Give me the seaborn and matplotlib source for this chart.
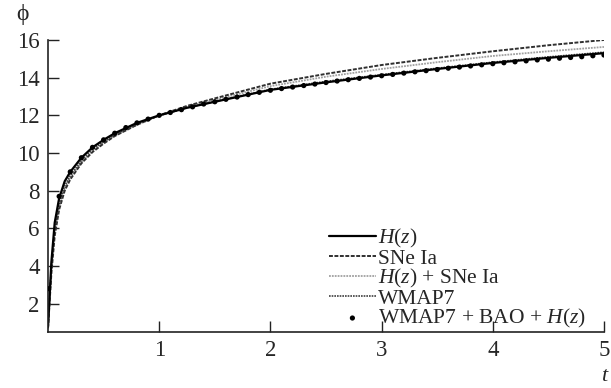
import numpy as np
import pandas as pd
import matplotlib
matplotlib.use("Agg")
import matplotlib.pyplot as plt
import seaborn as sns

# ---- data ----
t_line = [0.0, 0.03, 0.06, 0.1, 0.15, 0.2, 0.3, 0.4, 0.5, 0.6, 0.8, 1.0,
          1.25, 1.5, 2.0, 2.5, 3.0, 3.5, 4.0, 4.5, 5.0]
phi_H = [0.8, 4.2, 6.3, 7.6, 8.5, 9.0, 9.75, 10.3, 10.7, 11.05, 11.6, 12.0,
         12.4, 12.72, 13.35, 13.75, 14.12, 14.46, 14.78, 15.05, 15.3]
phi_SN = [0.7, 3.6, 5.6, 7.0, 8.0, 8.6, 9.45, 10.05, 10.5, 10.9, 11.5, 12.0,
          12.5, 12.9, 13.68, 14.2, 14.67, 15.05, 15.4, 15.72, 16.0]
phi_HSN = [0.7, 3.8, 5.8, 7.15, 8.1, 8.7, 9.5, 10.1, 10.55, 10.92, 11.5, 11.98,
           12.45, 12.82, 13.55, 14.05, 14.46, 14.82, 15.15, 15.4, 15.63]
phi_W = [0.8, 4.0, 6.0, 7.3, 8.25, 8.8, 9.6, 10.2, 10.6, 10.98, 11.55, 11.98,
         12.4, 12.73, 13.38, 13.8, 14.16, 14.5, 14.82, 15.1, 15.35]

t_dots = [round(0.1 * i, 1) for i in range(51)]
phi_dots = [2.8, 7.7, 9.0, 9.75, 10.3, 10.7, 11.05, 11.35, 11.6, 11.8,
            12.0, 12.15, 12.3, 12.45, 12.6, 12.72, 12.85, 12.97, 13.1, 13.22,
            13.33, 13.42, 13.5, 13.58, 13.66, 13.74, 13.82, 13.89, 13.96, 14.03,
            14.1, 14.17, 14.24, 14.31, 14.37, 14.43, 14.5, 14.56, 14.62, 14.68,
            14.74, 14.79, 14.84, 14.89, 14.94, 14.98, 15.03, 15.07, 15.11, 15.16,
            15.2]

labels = [r"$H$($z$)", "SNe Ia", r"$H$($z$) + SNe Ia", "WMAP7",
          r"WMAP7 + BAO + $H$($z$)"]
x_ticks = [1, 2, 3, 4, 5]
y_ticks = [2, 4, 6, 8, 10, 12, 14, 16]

sns.set_style("ticks")
plt.rcParams["font.family"] = ["Liberation Serif", "DejaVu Serif"]
plt.rcParams["mathtext.fontset"] = "custom"
plt.rcParams["mathtext.rm"] = "Liberation Serif"
plt.rcParams["mathtext.it"] = "Liberation Serif:italic"

fig = plt.figure(figsize=(6.11, 3.88), dpi=100)
ax = fig.add_axes([0.0786, 0.1443, 0.9099, 0.7527])

df = pd.DataFrame({"t": t_line, "H": phi_H, "SN": phi_SN, "HSN": phi_HSN, "W": phi_W})
dd = pd.DataFrame({"t": t_dots, "phi": phi_dots})

sns.lineplot(data=df, x="t", y="HSN", ax=ax, color="#a0a0a0", lw=1.3,
             linestyle=(0, (1, 0.6)), label=labels[2], legend=False)
sns.lineplot(data=df, x="t", y="SN", ax=ax, color="#303030", lw=1.4,
             linestyle=(0, (2, 0.8)), label=labels[1], legend=False)
sns.lineplot(data=df, x="t", y="W", ax=ax, color="#404040", lw=1.2,
             linestyle=(0, (1, 0.6)), label=labels[3], legend=False)
sns.lineplot(data=df, x="t", y="H", ax=ax, color="black", lw=1.6,
             label=labels[0], legend=False)
sns.scatterplot(data=dd, x="t", y="phi", ax=ax, color="black", s=14,
                edgecolor="none", label=labels[4], legend=False, zorder=5)

ax.set_xlim(0, 5)
ax.set_ylim(0.5, 16)
ax.set_xticks(x_ticks)
ax.set_yticks(y_ticks)
ax.tick_params(direction="in", length=8, width=1, labelsize=16.5, pad=6, color="#222222")
ax.set_xlabel("")
ax.set_ylabel("")
sns.despine(ax=ax)
for s in ["left", "bottom"]:
    ax.spines[s].set_linewidth(1.2)
    ax.spines[s].set_color("#222222")

fig.text(0.027, 0.935, "ϕ", fontsize=17, ha="left", va="bottom")
fig.text(0.997, 0.006, "$t$", fontsize=16, ha="right", va="bottom")

handles, labs = ax.get_legend_handles_labels()
order = [labs.index(l) for l in labels]
leg = ax.legend([handles[i] for i in order], [labs[i] for i in order],
                loc="upper left", bbox_to_anchor=(0.538, 0.415),
                bbox_transform=fig.transFigure, frameon=False, fontsize=15.5,
                handlelength=2.2, handletextpad=0.1, labelspacing=-0.07,
                borderpad=0, borderaxespad=0, markerscale=1.0)

fig.savefig("out.png", dpi=100)
